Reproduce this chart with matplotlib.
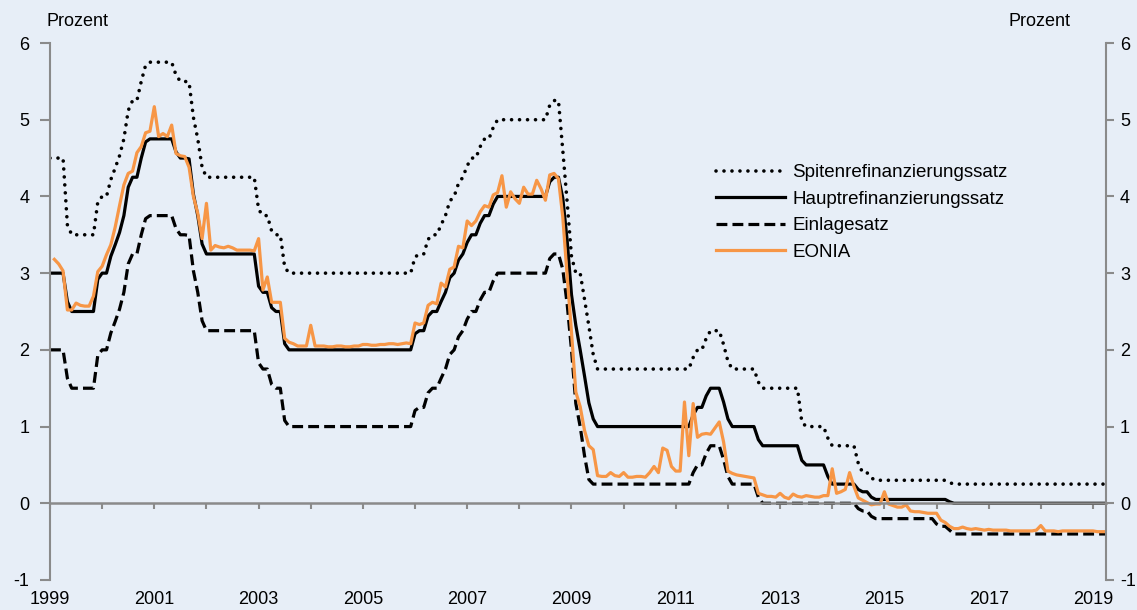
import numpy as np
import matplotlib
matplotlib.use("Agg")
import matplotlib.pyplot as plt

plt.rcParams['font.family'] = ['Liberation Sans', 'DejaVu Sans']

# Monatswerte Jan 1999 - Mär 2019 (Leitzinsen: Monatsdurchschnitt, EONIA: Monatsende)
spitzen = ([4.50, 4.50, 4.50, 3.63, 3.50, 3.50, 3.50, 3.50, 3.50, 3.50, 3.93, 4.00]
           + [4.00, 4.22, 4.37, 4.53, 4.75, 5.12, 5.25, 5.25, 5.50, 5.71, 5.75, 5.75]
           + [5.75, 5.75, 5.75, 5.75, 5.58, 5.50, 5.50, 5.49, 5.03, 4.75, 4.38, 4.25]
           + [4.25] * 11 + [3.83]
           + [3.75, 3.75, 3.55, 3.50, 3.50, 3.08] + [3.00] * 6
           + [3.00] * 12
           + [3.00] * 11 + [3.21]
           + [3.25, 3.25, 3.44, 3.50, 3.50, 3.63, 3.75, 3.94, 4.00, 4.17, 4.25, 4.40]
           + [4.50, 4.50, 4.65, 4.75, 4.75, 4.90] + [5.00] * 6
           + [5.00] * 6 + [5.19, 5.25, 5.25, 4.60, 3.93, 3.22]
           + [3.00, 3.00, 2.66, 2.31, 1.94] + [1.75] * 7
           + [1.75] * 12
           + [1.75, 1.75, 1.75, 1.90, 2.00, 2.00, 2.15, 2.25, 2.25, 2.25, 2.07, 1.85]
           + [1.75] * 6 + [1.58] + [1.50] * 5
           + [1.50] * 4 + [1.06] + [1.00] * 5 + [0.85, 0.75]
           + [0.75] * 5 + [0.52, 0.40, 0.40, 0.33, 0.30, 0.30, 0.30]
           + [0.30] * 12
           + [0.30, 0.30, 0.27] + [0.25] * 9
           + [0.25] * 12
           + [0.25] * 12
           + [0.25] * 3)

haupt = ([3.00, 3.00, 3.00, 2.63, 2.50, 2.50, 2.50, 2.50, 2.50, 2.50, 2.92, 3.00]
         + [3.00, 3.22, 3.37, 3.53, 3.75, 4.12, 4.25, 4.25, 4.50, 4.71, 4.75, 4.75]
         + [4.75, 4.75, 4.75, 4.75, 4.58, 4.50, 4.50, 4.49, 4.03, 3.75, 3.38, 3.25]
         + [3.25] * 11 + [2.83]
         + [2.75, 2.75, 2.55, 2.50, 2.50, 2.08] + [2.00] * 6
         + [2.00] * 12
         + [2.00] * 11 + [2.21]
         + [2.25, 2.25, 2.44, 2.50, 2.50, 2.63, 2.75, 2.94, 3.00, 3.17, 3.25, 3.40]
         + [3.50, 3.50, 3.65, 3.75, 3.75, 3.90] + [4.00] * 6
         + [4.00] * 6 + [4.19, 4.25, 4.25, 3.98, 3.43, 2.72]
         + [2.32, 2.00, 1.66, 1.31, 1.10] + [1.00] * 7
         + [1.00] * 12
         + [1.00, 1.00, 1.00, 1.15, 1.25, 1.25, 1.40, 1.50, 1.50, 1.50, 1.32, 1.10]
         + [1.00] * 6 + [0.83] + [0.75] * 5
         + [0.75] * 4 + [0.56] + [0.50] * 5 + [0.35, 0.25]
         + [0.25] * 5 + [0.18, 0.15, 0.15, 0.08, 0.05, 0.05, 0.05]
         + [0.05] * 12
         + [0.05, 0.05, 0.02] + [0.00] * 9
         + [0.00] * 12
         + [0.00] * 12
         + [0.00] * 3)

einlage = ([2.00, 2.00, 2.00, 1.63, 1.50, 1.50, 1.50, 1.50, 1.50, 1.50, 1.93, 2.00]
           + [2.00, 2.22, 2.37, 2.53, 2.75, 3.12, 3.25, 3.25, 3.50, 3.71, 3.75, 3.75]
           + [3.75, 3.75, 3.75, 3.75, 3.58, 3.50, 3.50, 3.49, 3.03, 2.75, 2.38, 2.25]
           + [2.25] * 11 + [1.83]
           + [1.75, 1.75, 1.55, 1.50, 1.50, 1.08] + [1.00] * 6
           + [1.00] * 12
           + [1.00] * 11 + [1.21]
           + [1.25, 1.25, 1.44, 1.50, 1.50, 1.63, 1.75, 1.94, 2.00, 2.17, 2.25, 2.40]
           + [2.50, 2.50, 2.65, 2.75, 2.75, 2.90] + [3.00] * 6
           + [3.00] * 6 + [3.19, 3.25, 3.25, 3.05, 2.60, 2.00]
           + [1.30, 1.00, 0.62, 0.31] + [0.25] * 8
           + [0.25] * 12
           + [0.25, 0.25, 0.25, 0.40, 0.50, 0.50, 0.65, 0.75, 0.75, 0.75, 0.57, 0.35]
           + [0.25] * 6 + [0.08] + [0.00] * 5
           + [0.00] * 12
           + [0.00] * 5 + [-0.07, -0.10, -0.10, -0.17, -0.20, -0.20, -0.20]
           + [-0.20] * 11 + [-0.27]
           + [-0.30, -0.30, -0.35] + [-0.40] * 9
           + [-0.40] * 12
           + [-0.40] * 12
           + [-0.40] * 3)

eonia = ([3.18, 3.12, 3.03, 2.52, 2.52, 2.61, 2.58, 2.57, 2.57, 2.70, 3.02, 3.09]
         + [3.24, 3.37, 3.60, 3.88, 4.15, 4.30, 4.33, 4.57, 4.65, 4.83, 4.85, 5.17]
         + [4.78, 4.82, 4.78, 4.93, 4.56, 4.53, 4.52, 4.38, 4.00, 3.78, 3.45, 3.91]
         + [3.30, 3.36, 3.34, 3.33, 3.35, 3.33, 3.30, 3.30, 3.30, 3.30, 3.29, 3.45]
         + [2.78, 2.95, 2.62, 2.62, 2.62, 2.15, 2.10, 2.08, 2.05, 2.05, 2.05, 2.32]
         + [2.05, 2.05, 2.05, 2.04, 2.04, 2.05, 2.05, 2.04, 2.04, 2.05, 2.05, 2.07]
         + [2.07, 2.06, 2.06, 2.07, 2.07, 2.08, 2.08, 2.07, 2.08, 2.09, 2.08, 2.35]
         + [2.33, 2.35, 2.58, 2.62, 2.60, 2.87, 2.82, 3.05, 3.08, 3.35, 3.33, 3.68]
         + [3.62, 3.68, 3.80, 3.88, 3.86, 4.02, 4.05, 4.27, 3.86, 4.06, 3.97, 3.91]
         + [4.12, 4.03, 4.03, 4.21, 4.10, 3.95, 4.28, 4.30, 4.23, 3.73, 2.97, 2.23]
         + [1.45, 1.26, 0.95, 0.75, 0.70, 0.36, 0.35, 0.35, 0.40, 0.36, 0.35, 0.40]
         + [0.34, 0.34, 0.35, 0.35, 0.34, 0.40, 0.48, 0.40, 0.72, 0.69, 0.48, 0.42]
         + [0.42, 1.32, 0.62, 1.30, 0.86, 0.90, 0.91, 0.90, 0.98, 1.06, 0.80, 0.42]
         + [0.39, 0.37, 0.36, 0.35, 0.34, 0.33, 0.13, 0.11, 0.09, 0.09, 0.08, 0.13]
         + [0.08, 0.06, 0.12, 0.09, 0.08, 0.10, 0.09, 0.08, 0.08, 0.10, 0.10, 0.45]
         + [0.13, 0.15, 0.18, 0.40, 0.22, 0.07, 0.04, 0.01, -0.02, -0.01, -0.01, 0.15]
         + [-0.01, -0.03, -0.05, -0.05, -0.02, -0.10, -0.11, -0.11, -0.12, -0.13, -0.13, -0.13]
         + [-0.22, -0.25, -0.30, -0.33, -0.33, -0.31, -0.33, -0.34, -0.33, -0.34, -0.35, -0.34]
         + [-0.35, -0.35, -0.35, -0.35, -0.36, -0.36, -0.36, -0.36, -0.36, -0.36, -0.35, -0.29]
         + [-0.36, -0.36, -0.36, -0.37, -0.36, -0.36, -0.36, -0.36, -0.36, -0.36, -0.36, -0.36]
         + [-0.37, -0.37, -0.37])

series_labels = ['Spitenrefinanzierungssatz', 'Hauptrefinanzierungssatz', 'Einlagesatz', 'EONIA']
years = list(range(1999, 2020))
year_labels = [str(y) if (y - 1999) % 2 == 0 else '' for y in years]
y_ticks = list(range(-1, 7))

bg = '#E7EEF7'
grey = '#8A8A8A'
orange = '#F79646'

# x-Positionen: Monatsende; Leitzinsen zusätzlich ab 1.1.1999
x = 1999 + (np.arange(len(eonia)) + 1) / 12
x_pol = np.r_[1999.0, x]

fig = plt.figure(figsize=(11.37, 6.10), dpi=100, facecolor=bg)
ax = fig.add_axes([50 / 1137, 30 / 610, 1056 / 1137, 537 / 610])
ax.set_facecolor(bg)

l1, = ax.plot(x_pol, np.r_[spitzen[0], spitzen], color='black', lw=2.6,
              ls=(0, (0.01, 2.2)), dash_capstyle='round')
l2, = ax.plot(x_pol, np.r_[haupt[0], haupt], color='black', lw=2.3)
l3, = ax.plot(x_pol, np.r_[einlage[0], einlage], color='black', lw=2.3,
              ls=(0, (3.4, 1.6)))
l4, = ax.plot(x, eonia, color=orange, lw=2.3)

ax.set_xlim(1999, 2019.25)
ax.set_ylim(-1, 6)

for s in ['top', 'right']:
    ax.spines[s].set_visible(False)
ax.spines['left'].set_color(grey)
ax.spines['left'].set_linewidth(1.5)
ax.spines['bottom'].set_position(('data', 0))
ax.spines['bottom'].set_color(grey)
ax.spines['bottom'].set_linewidth(1.8)

ax.set_yticks(y_ticks)
ax.set_yticklabels([str(v) for v in y_ticks])
ax.tick_params(axis='y', direction='out', length=7, width=1.5, color=grey,
               pad=8, labelsize=13)
ax.set_xticks(years)
ax.set_xticklabels(year_labels)
ax.tick_params(axis='x', direction='out', length=4, width=1.5, color=grey,
               pad=59, labelsize=13)

ax2 = ax.twinx()
ax2.set_ylim(-1, 6)
ax2.set_yticks(y_ticks)
ax2.set_yticklabels([str(v) for v in y_ticks])
for s in ['top', 'left', 'bottom']:
    ax2.spines[s].set_visible(False)
ax2.spines['right'].set_color(grey)
ax2.spines['right'].set_linewidth(1.5)
ax2.tick_params(axis='y', direction='out', length=6, width=1.5, color=grey,
                pad=4, labelsize=13)

fig.text(77 / 1137, 1 - 22 / 610, 'Prozent', ha='center', va='center', fontsize=13)
fig.text(1040 / 1137, 1 - 22 / 610, 'Prozent', ha='center', va='center', fontsize=13)

ax.legend([l1, l2, l3, l4], series_labels, loc='upper left',
          bbox_to_anchor=(716 / 1137, 1 - 164 / 610), bbox_transform=fig.transFigure,
          frameon=False, fontsize=13.5, handlelength=3.7, handletextpad=0.37,
          labelspacing=0.5, borderpad=0, borderaxespad=0)

fig.savefig('out.png', dpi=100, facecolor=bg)
